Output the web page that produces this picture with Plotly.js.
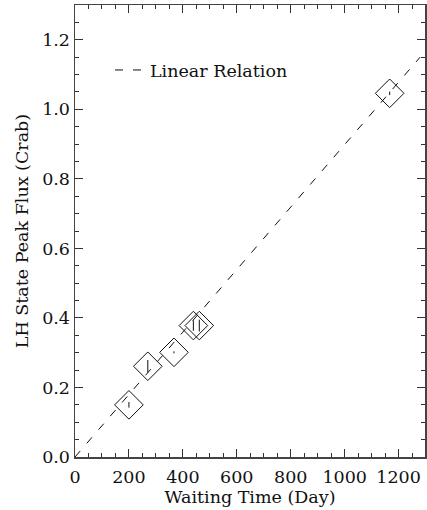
<!DOCTYPE html>
<html>
<head>
<meta charset="utf-8">
<script src="https://cdn.plot.ly/plotly-3.0.1.min.js"></script>
<style>
  html, body { margin: 0; padding: 0; background: #fff; }
  #chart { width: 427px; height: 510px; }
</style>
</head>
<body>
<div id="chart"></div>
<script>
// Observed points
const waitingDays = [200, 270, 367, 439, 461, 1167];
const peakFlux = [0.150, 0.261, 0.301, 0.378, 0.378, 1.046];
const fluxErr = [0.008, 0.018, 0.003, 0.015, 0.017, 0.005];

// Linear relation (end points)
const lineDays = [0, 1280];
const lineFlux = [0, 1.15];

const xTickVals = [0, 200, 400, 600, 800, 1000, 1200];
const yTickVals = [0.0, 0.2, 0.4, 0.6, 0.8, 1.0, 1.2];

const FONT = 'DejaVu Serif, Liberation Serif, serif';
const FS = 17.5;

const traces = [
  {
    x: lineDays, y: lineFlux, type: 'scatter', mode: 'lines',
    name: 'Linear Relation',
    line: { color: '#111', width: 1, dash: '8px,10px' },
    hoverinfo: 'skip'
  },
  {
    x: waitingDays, y: peakFlux, type: 'scatter', mode: 'markers',
    showlegend: false,
    marker: { symbol: 'diamond-open', size: 22, color: '#111', line: { width: 1, color: '#111' } },
    error_y: { type: 'data', array: fluxErr, visible: true, color: '#111', thickness: 1, width: 0 }
  }
];

const axisCommon = {
  showgrid: false, zeroline: false,
  showline: true, linecolor: '#444', linewidth: 1.5,
  mirror: 'allticks', ticks: 'inside', ticklen: 8, tickwidth: 1, tickcolor: '#333',
  tickfont: { family: FONT, size: FS, color: '#111' }
};

const layout = {
  width: 427, height: 510,
  margin: { l: 75, r: 2, t: 5, b: 53 },
  paper_bgcolor: '#fff', plot_bgcolor: '#fff',
  font: { family: FONT, color: '#111' },
  showlegend: true,
  legend: {
    x: 0.1, y: 0.856, xanchor: 'left', yanchor: 'middle',
    bgcolor: 'rgba(0,0,0,0)', borderwidth: 0,
    font: { family: FONT, size: FS, color: '#111' }
  },
  xaxis: Object.assign({}, axisCommon, {
    range: [0, 1298],
    ticklabelstandoff: 3,
    tickmode: 'array', tickvals: xTickVals, ticktext: xTickVals.map(String),
    minor: { dtick: 50, tick0: 0, ticks: 'inside', ticklen: 4, tickcolor: '#333' },
    title: { text: 'Waiting Time (Day)', font: { family: FONT, size: FS, color: '#111' }, standoff: 4 }
  }),
  yaxis: Object.assign({}, axisCommon, {
    range: [0, 1.3],
    tickmode: 'array', tickvals: yTickVals, ticktext: yTickVals.map(v => v.toFixed(1)),
    minor: { dtick: 0.05, tick0: 0, ticks: 'inside', ticklen: 4, tickcolor: '#333' },
    title: { text: 'LH State Peak Flux (Crab)', font: { family: FONT, size: FS, color: '#111' }, standoff: 9 }
  })
};

Plotly.newPlot('chart', traces, layout, { displayModeBar: false, staticPlot: true });
</script>
</body>
</html>
